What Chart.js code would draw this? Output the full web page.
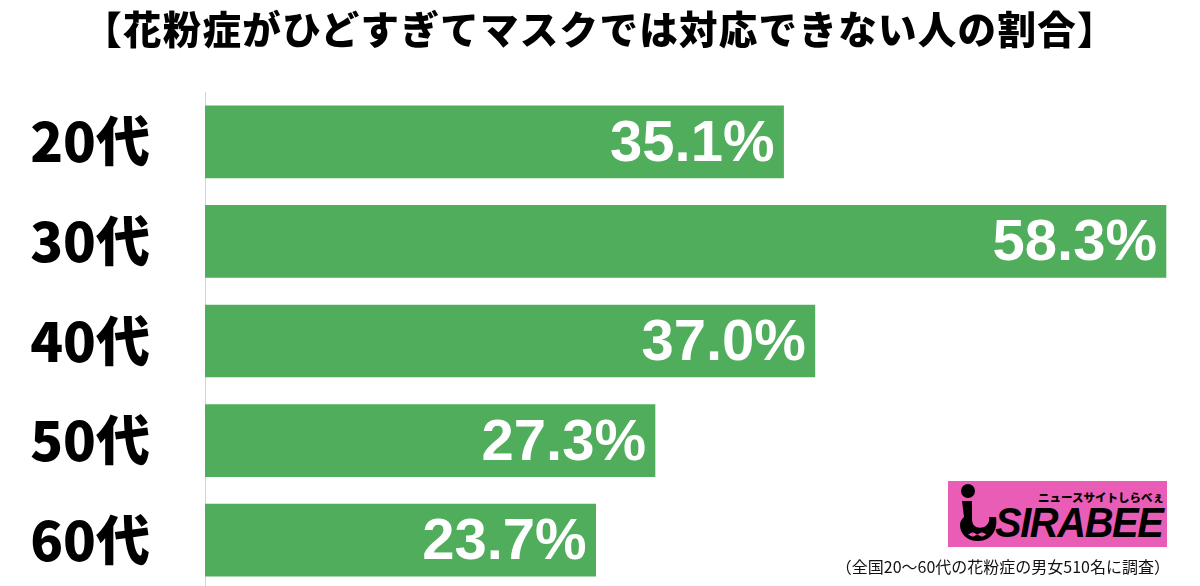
<!DOCTYPE html>
<html>
<head>
<meta charset="utf-8">
<script src="https://cdn.jsdelivr.net/npm/chart.js@4.4.1/dist/chart.umd.min.js"></script>
<style>
  html, body { margin:0; padding:0; background:#fff; overflow:hidden; width:1200px; height:586px; }
  #wrap { position:absolute; left:0; top:0; width:1200px; height:590px; }
  #title { position:absolute; left:0; top:4px; width:1200px; text-align:center;
    font-family:"Noto Sans CJK JP", sans-serif; font-weight:900; font-size:38.5px; color:#000; line-height:46px; letter-spacing:1.3px; }
  #logo { position:absolute; left:948px; top:481px; width:219px; height:66px; background:#E95DB6; overflow:hidden; }
  #logo .sub { position:absolute; left:90px; top:9px; font-family:"Noto Sans CJK JP", sans-serif; font-weight:900; font-size:11.5px; line-height:14px; color:#000; letter-spacing:0px; white-space:nowrap; }
  #logo .main { position:absolute; left:47px; top:18px; font-family:"Liberation Sans", Arial, sans-serif; font-weight:900; font-style:italic; font-size:42px; color:#000; letter-spacing:-1.5px; white-space:nowrap; transform:scaleX(0.95); transform-origin:left top; }
  #logo svg { position:absolute; left:0; top:0; }
  #note { position:absolute; right:30px; top:554px; font-family:"Noto Sans CJK JP", sans-serif; font-size:16px; color:#111; white-space:nowrap; }
</style>
</head>
<body>
<div id="wrap"><canvas id="c"></canvas></div>
<div id="title">【花粉症がひどすぎてマスクでは対応できない人の割合】</div>
<div id="logo">
  <svg width="60" height="66" viewBox="0 0 60 66">
    <circle cx="20" cy="10" r="7" fill="#000"/>
    <path d="M14 20 L24 20 L24 38 C24 46 30 48 36 46 C40 44 42 40 41 36 L48 36 C50 48 44 60 30 60 C18 60 12 52 12 44 C12 40 14 38 16 36 Z" fill="#000"/>
    <text x="20" y="55" font-size="6" fill="#E95DB6" font-family="DejaVu Sans">◀▶◀▶</text>
  </svg>
  <div class="sub">ニュースサイトしらべぇ</div>
  <div class="main">SIRABEE</div>
</div>
<div id="note">（全国20～60代の花粉症の男女510名に調査）</div>
<script>
const categories = ['20代', '30代', '40代', '50代', '60代'];
const values = [35.1, 58.3, 37.0, 27.3, 23.7];
const valueLabels = ['35.1%', '58.3%', '37.0%', '27.3%', '23.7%'];

const barLabelPlugin = {
  id: 'barLabels',
  afterDatasetsDraw(chart) {
    const ctx = chart.ctx;
    const meta = chart.getDatasetMeta(0);
    ctx.save();
    ctx.fillStyle = '#ffffff';
    ctx.font = 'bold 58px "Liberation Sans", Arial, sans-serif';
    ctx.textAlign = 'right';
    ctx.textBaseline = 'middle';
    meta.data.forEach((bar, i) => {
      ctx.fillText(valueLabels[i], bar.x - 9, bar.y + 3);
    });
    ctx.restore();
  }
};

new Chart(document.getElementById('c'), {
  type: 'bar',
  data: {
    labels: categories,
    datasets: [{
      data: values,
      backgroundColor: '#4FAD5B',
      borderWidth: 0,
      barThickness: 72
    }]
  },
  options: {
    indexAxis: 'y',
    responsive: true,
    maintainAspectRatio: false,
    animation: false,
    layout: { padding: { top: 92, right: 6, left: 0, bottom: 0 } },
    plugins: { legend: { display: false }, tooltip: { enabled: false }, title: { display: false } },
    scales: {
      x: { display: false, min: 0, max: 60 },
      y: {
        afterFit: (s) => { s.width = 205; s.paddingTop = 0; s.paddingBottom = 0; },
        grid: { display: false, drawTicks: false },
        border: { display: true, color: '#d4d4d4', width: 1 },
        ticks: {
          color: '#000',
          padding: 55,
          font: { family: '"Noto Sans CJK JP", sans-serif', size: 54, weight: '900' }
        }
      }
    }
  },
  plugins: [barLabelPlugin]
});
</script>
</body>
</html>
